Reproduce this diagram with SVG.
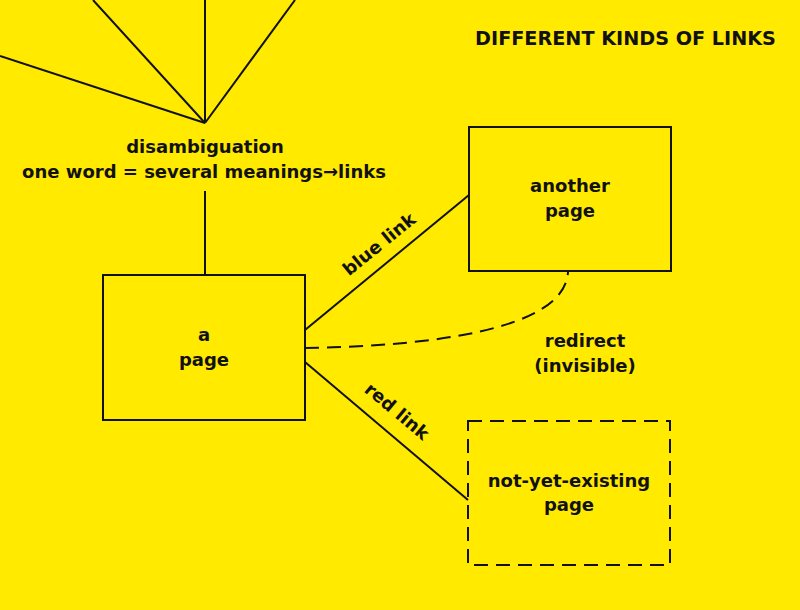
<svg xmlns="http://www.w3.org/2000/svg" width="800" height="610" viewBox="0 0 800 610">
<style>
.t{font-family:"DejaVu Sans","Open Sans",sans-serif;font-weight:700;font-size:18px;fill:#111;text-anchor:middle}
.ln{stroke:#111;stroke-width:2;fill:none}
.dash{stroke-dasharray:14,8}
</style>
<rect width="800" height="610" fill="#ffea00"/>
<text class="t" x="625.5" y="45" style="font-size:19.2px">DIFFERENT KINDS OF LINKS</text>
<g id="connectors">
<line class="ln" x1="205" y1="123" x2="0" y2="56"/>
<line class="ln" x1="205" y1="123" x2="93" y2="0"/>
<line class="ln" x1="205" y1="123" x2="205" y2="0"/>
<line class="ln" x1="205" y1="123" x2="295" y2="0"/>
<line class="ln" x1="205" y1="191" x2="205" y2="274"/>
<line class="ln" x1="305" y1="330" x2="469" y2="195"/>
<path class="ln dash" d="M305,348 C430,346 565,330 568,272"/>
<line class="ln" x1="305" y1="362" x2="468" y2="500"/>
<text class="t" transform="translate(383,249) rotate(-39)">blue link</text>
<text class="t" transform="translate(393,416) rotate(40)">red link</text>
<text class="t" x="585" y="347">redirect</text>
<text class="t" x="585" y="372">(invisible)</text>
</g>
<g id="disambiguation">
<text class="t" x="205" y="153">disambiguation</text>
<text class="t" x="204" y="178">one word = several meanings→links</text>
</g>
<g id="a-page">
<rect class="ln" x="103" y="275" width="202" height="145"/>
<text class="t" x="204" y="341">a</text>
<text class="t" x="204" y="366">page</text>
</g>
<g id="another-page">
<rect class="ln" x="469" y="127" width="202" height="144"/>
<text class="t" x="570" y="192">another</text>
<text class="t" x="570" y="217">page</text>
</g>
<g id="not-yet-existing-page">
<rect class="ln dash" x="468" y="421" width="202" height="144"/>
<text class="t" x="569" y="487">not-yet-existing</text>
<text class="t" x="569" y="511">page</text>
</g>
</svg>
